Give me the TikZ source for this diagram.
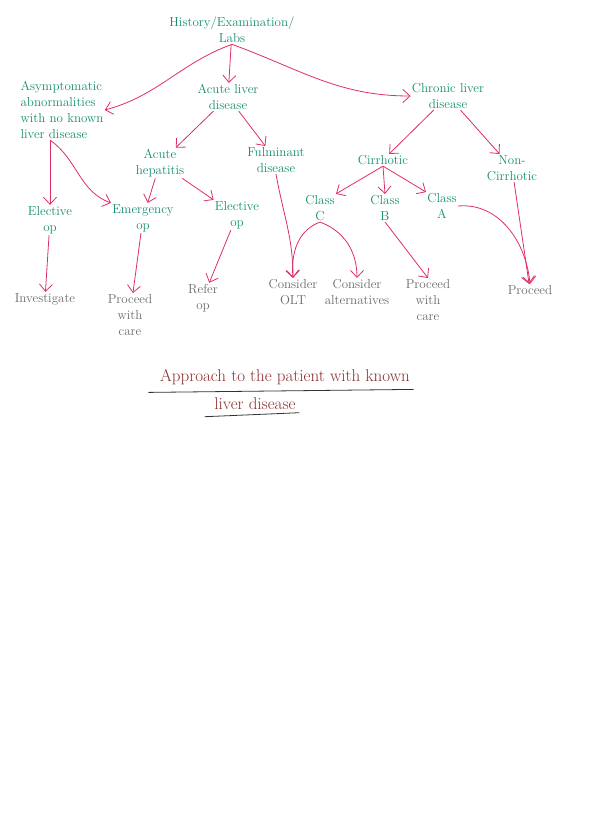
\documentclass[tikz,border=0pt]{standalone}
\usepackage{tikz}
\usetikzlibrary{arrows.meta}
\definecolor{penGreen}{RGB}{20,140,112}
\definecolor{penPink}{RGB}{222,48,98}
\definecolor{penGrey}{RGB}{105,105,105}
\definecolor{penBrown}{RGB}{140,45,45}

\begin{document}
\begin{tikzpicture}[x=1pt,y=-1pt,thick,font=\fontsize{13}{16}\selectfont,
    lbl/.style={text=penGreen,align=center,inner sep=1pt},
    res/.style={text=penGrey,align=center,inner sep=1pt},
    arr/.style={draw=penPink,-{Straight Barb[length=7pt,width=13pt]}}]
            \useasboundingbox (0,0) rectangle (595,833);
            % top levels
            \draw (232,30)  node[lbl] (root) {History/Examination/\\Labs};
            \draw (62,110)  node[lbl,align=left] (asym) {Asymptomatic\\abnormalities\\with no known\\liver disease};
            \draw (228,97)  node[lbl] (acute) {Acute liver\\disease};
            \draw (448,96)  node[lbl] (chronic) {Chronic liver\\disease};
            \draw (160,163) node[lbl] (hep) {Acute\\hepatitis};
            \draw (276,160) node[lbl] (fulm) {Fulminant\\disease};
            \draw (383,160) node[lbl] (cirr) {Cirrhotic};
            \draw (512,168) node[lbl] (noncirr) {Non-\\Cirrhotic};
            \draw (320,208) node[lbl] (classC) {Class\\C};
            \draw (385,208) node[lbl] (classB) {Class\\B};
            \draw (442,206) node[lbl] (classA) {Class\\A};
            \draw (50,220)  node[lbl] (elecA) {Elective\\op};
            \draw (143,218) node[lbl] (emerg) {Emergency\\op};
            \draw (237,215) node[lbl] (elecB) {Elective\\op};
            % outcomes
            \draw (45,299)  node[res] (inv) {Investigate};
            \draw (130,315) node[res] (procA) {Proceed\\with\\care};
            \draw (203,298) node[res] (refer) {Refer\\op};
            \draw (293,292) node[res] (olt) {Consider\\OLT};
            \draw (357,292) node[res] (alt) {Consider\\alternatives};
            \draw (428,300) node[res] (procB) {Proceed\\with\\care};
            \draw (530,290) node[res] (procC) {Proceed};
            % title
            \draw (285,377) node[text=penBrown,font=\fontsize{17}{20}\selectfont] (titleA) {Approach to the patient with known};
            \draw (255,404) node[text=penBrown,font=\fontsize{17}{20}\selectfont] (titleB) {liver disease};
            \draw[black!80] (titleA.south west) ++(-8,4) -- ([yshift=-1pt]titleA.south east);
            \draw[black!80] (titleB.south west) ++(-6,3) -- ([yshift=1pt]titleB.south east);
            % connectors
            \draw[arr] (root) -- (acute);
            \draw[arr] (root.south) to[out=-160,in=15] (asym.east);
            \draw[arr] (root.south) to[out=-20,in=180] (chronic.west);
            \draw[arr] (acute) -- (hep);
            \draw[arr] (acute) -- (fulm);
            \draw[arr] (chronic) -- (cirr);
            \draw[arr] (chronic) -- (noncirr);
            \draw[arr] (asym.south -| elecA) -- (elecA);
            \draw[arr] (asym.south -| elecA) to[out=-35,in=160] (emerg.north west);
            \draw[arr] (hep) -- (emerg);
            \draw[arr] (hep) -- (elecB.north west);
            \draw[arr] (fulm.south) to[out=-80,in=90] (olt.north);
            \draw[arr] (cirr.south) -- (classC.north east);
            \draw[arr] (cirr.south) -- (classB.north);
            \draw[arr] (cirr.south) -- (classA.north west);
            \draw[arr] (classC.south) to[out=-160,in=95] (olt.north);
            \draw[arr] (classC.south) to[out=-20,in=90] (alt.north);
            \draw[arr] (classB.south) -- (procB.north);
            \draw[arr] (classA.east) to[out=5,in=95] (procC.north);
            \draw[arr] (noncirr) -- (procC);
            \draw[arr] (elecA) -- (inv);
            \draw[arr] (emerg) -- (procA);
            \draw[arr] (elecB) -- (refer);
        \end{tikzpicture}
\end{document}
